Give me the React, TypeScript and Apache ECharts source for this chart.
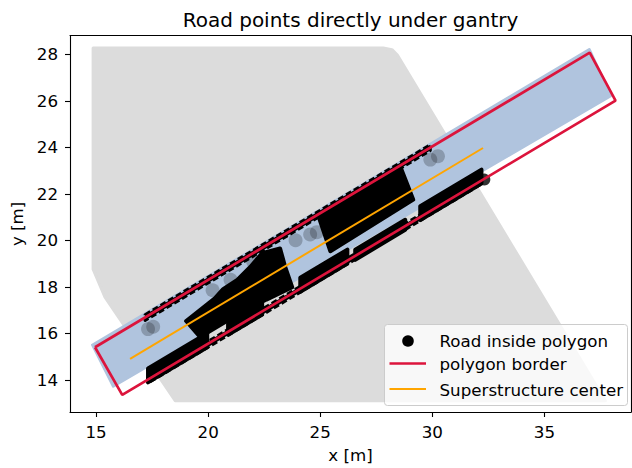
import React, { useEffect, useRef } from 'react';
import * as echarts from 'echarts';

type Pt = [number, number];

const FONT = 'DejaVu Sans';

// Axis extents and tick positions [m]
const xRange: Pt = [13.84, 38.86];
const yRange: Pt = [12.615, 28.8];
const xTicks = [15, 20, 25, 30, 35];
const yTicks = [14, 16, 18, 20, 22, 24, 26, 28];

// Footprint of the whole surveyed road point cloud
const surveyCloud: Pt[] = [
  [14.87, 28.27], [27.81, 28.27], [28.2, 28.2], [28.44, 27.97], [37.72, 13.1],
  [18.53, 13.1], [16.21, 16.4], [15.4, 17.55], [14.87, 18.76],
];

// Points under the gantry footprint (light blue strip)
const gantryStrip: Pt[] = [
  [14.82, 15.5], [37.01, 28.23], [37.99, 26.21], [15.76, 13.7],
];

// Dense clusters of road points inside the polygon
const roadClusters: Pt[][] = [
  [[17.32, 14.49], [19.96, 16.0], [19.96, 15.4], [17.32, 13.89]],
  [[20.89, 16.41], [22.41, 17.28], [22.41, 16.81], [20.89, 15.94]],
  [[24.11, 18.39], [26.21, 19.6], [26.21, 19.0], [24.11, 17.79]],
  [[26.56, 19.59], [28.79, 20.88], [28.79, 20.45], [26.56, 19.16]],
  [[29.46, 21.47], [32.19, 23.04], [32.19, 22.44], [29.46, 20.87]],
  [[24.91, 21.07], [28.57, 23.17], [29.15, 21.75], [25.45, 19.53]],
  [
    [19.02, 16.53], [20.3, 17.5], [20.67, 17.9], [21.3, 18.3], [21.88, 18.85], [22.41, 19.45],
    [23.21, 19.65], [23.44, 18.84], [23.75, 17.98], [22.6, 17.45], [21.43, 16.87], [19.64, 15.84],
  ],
];

// Thin rows of road points along the polygon's long edges
const roadEdgeRows: Pt[][] = [
  [[17.19, 16.8], [29.91, 24.11], [29.91, 23.86], [17.19, 16.55]],
  [[17.32, 14.11], [32.19, 22.67], [32.19, 22.42], [17.32, 13.86]],
];

// Isolated road points
const roadPoints: Pt[] = [[32.32, 22.61]];
const roadFaintPoints: Pt[] = [
  [17.32, 16.18], [17.55, 16.28], [24.55, 20.25], [24.85, 20.35], [29.91, 23.47], [30.25, 23.62],
  [20.2, 17.85], [21.0, 18.3], [23.9, 20.0], [22.0, 19.1],
];

// Selection polygon (closed) and superstructure centre line
const polygonBorder: Pt[] = [
  [14.955, 15.4], [37.02, 28.07], [38.17, 26.01], [16.17, 13.35], [14.955, 15.4],
];
const superstructureCenter: Pt[] = [[16.52, 14.9], [32.26, 23.97]];

const legendItems = ['Road inside polygon', 'polygon border', 'Superstructure center'];

function polygonSeries(name: string, polys: Pt[][], style: any, z: number) {
  return {
    type: 'custom',
    name,
    z,
    silent: true,
    clip: true,
    coordinateSystem: 'cartesian2d',
    data: polys.map((p) => [p[0][0], p[0][1]]),
    encode: { x: 0, y: 1 },
    renderItem: (params: any, api: any) => {
      const pts = polys[params.dataIndex].map((p) => api.coord(p));
      return { type: 'polygon', shape: { points: pts }, style };
    },
  };
}

function axisCommon(range: Pt) {
  return {
    type: 'value',
    min: range[0],
    max: range[1],
    splitLine: { show: false },
    axisLine: { show: true, onZero: false, lineStyle: { color: '#000', width: 1.1 } },
  };
}

const labelStyle = { color: '#000', fontSize: 16.7, fontFamily: FONT };

function buildOption() {
  return {
    animation: false,
    textStyle: { fontFamily: FONT },
    grid: { left: 70, right: 1, top: 35.7, bottom: 54.7, containLabel: false },
    xAxis: [
      {
        ...axisCommon(xRange),
        position: 'bottom',
        axisTick: { show: true, inside: false, length: 5, lineStyle: { color: '#000', width: 1.1 }, customValues: xTicks },
        axisLabel: { ...labelStyle, margin: 11, customValues: xTicks },
        name: 'x [m]',
        nameLocation: 'middle',
        nameGap: 34,
        nameTextStyle: labelStyle,
      },
      {
        ...axisCommon(xRange),
        position: 'top',
        axisTick: { show: false },
        axisLabel: { show: false },
      },
    ],
    yAxis: [
      {
        ...axisCommon(yRange),
        position: 'left',
        axisTick: { show: true, inside: false, length: 5, lineStyle: { color: '#000', width: 1.1 }, customValues: yTicks },
        axisLabel: { ...labelStyle, margin: 12, customValues: yTicks },
        name: 'y [m]',
        nameLocation: 'middle',
        nameRotate: 90,
        nameGap: 39,
        nameTextStyle: labelStyle,
      },
      {
        ...axisCommon(yRange),
        position: 'right',
        axisTick: { show: false },
        axisLabel: { show: false },
      },
    ],
    series: [
      polygonSeries('road cloud', [surveyCloud], { fill: '#dcdcdc', stroke: '#dcdcdc', lineWidth: 3, lineJoin: 'round' }, 1),
      polygonSeries('gantry strip', [gantryStrip], { fill: '#b0c4de', stroke: '#b0c4de', lineWidth: 2, lineJoin: 'round' }, 2),
      polygonSeries('road rows', roadEdgeRows, { fill: '#000', stroke: '#000', lineWidth: 3, lineJoin: 'round', lineDash: [6, 3] }, 3),
      polygonSeries('road clusters', roadClusters, { fill: '#000', stroke: '#000', lineWidth: 4, lineJoin: 'round' }, 3),
      {
        type: 'scatter',
        name: legendItems[0],
        z: 4,
        silent: true,
        symbolSize: 12,
        itemStyle: { color: '#000' },
        data: [
          ...roadPoints.map((p) => ({ value: p })),
          ...roadFaintPoints.map((p) => ({ value: p, symbolSize: 14, itemStyle: { opacity: 0.22 } })),
        ],
      },
      {
        type: 'line',
        name: legendItems[1],
        z: 5,
        silent: true,
        symbol: 'none',
        lineStyle: { color: '#dc143c', width: 2.7 },
        data: polygonBorder,
      },
      {
        type: 'line',
        name: legendItems[2],
        z: 6,
        silent: true,
        symbol: 'none',
        lineStyle: { color: '#ffa500', width: 2 },
        data: superstructureCenter,
      },
    ],
    graphic: [
      {
        type: 'text',
        z: 100,
        x: 350.5,
        y: 19.5,
        style: {
          text: 'Road points directly under gantry',
          fill: '#000',
          font: `20px "${FONT}"`,
          align: 'center',
          verticalAlign: 'middle',
          textAlign: 'center',
          textVerticalAlign: 'middle',
        },
      },
      {
        type: 'group',
        z: 100,
        children: [
          {
            type: 'rect',
            shape: { x: 384.5, y: 324.5, width: 243, height: 81, r: 3 },
            style: { fill: 'rgba(255,255,255,0.8)', stroke: '#cccccc', lineWidth: 1 },
            z: 100,
          },
          { type: 'circle', shape: { cx: 408, cy: 341, r: 5.8 }, style: { fill: '#000' }, z: 101 },
          {
            type: 'line',
            shape: { x1: 389.5, y1: 363.5, x2: 426, y2: 363.5 },
            style: { stroke: '#dc143c', lineWidth: 2.7 },
            z: 101,
          },
          {
            type: 'line',
            shape: { x1: 389.5, y1: 389, x2: 426, y2: 389 },
            style: { stroke: '#ffa500', lineWidth: 2 },
            z: 101,
          },
          ...legendItems.map((t, i) => ({
            type: 'text',
            z: 101,
            x: 439.5,
            y: [340.5, 364, 389.5][i],
            style: {
              text: t,
              fill: '#000',
              font: `16.7px "${FONT}"`,
              align: 'left',
              verticalAlign: 'middle',
              textAlign: 'left',
              textVerticalAlign: 'middle',
            },
          })),
        ],
      },
    ],
  };
}

export default function App() {
  const ref = useRef<HTMLDivElement>(null);
  useEffect(() => {
    if (!ref.current) return;
    const chart = echarts.init(ref.current, null, { renderer: 'svg' });
    chart.setOption(buildOption() as any);
    return () => chart.dispose();
  }, []);
  return (
    <div
      ref={ref}
      style={{ position: 'absolute', left: 0, top: 0, width: 632, height: 468, background: '#fff' }}
    />
  );
}
